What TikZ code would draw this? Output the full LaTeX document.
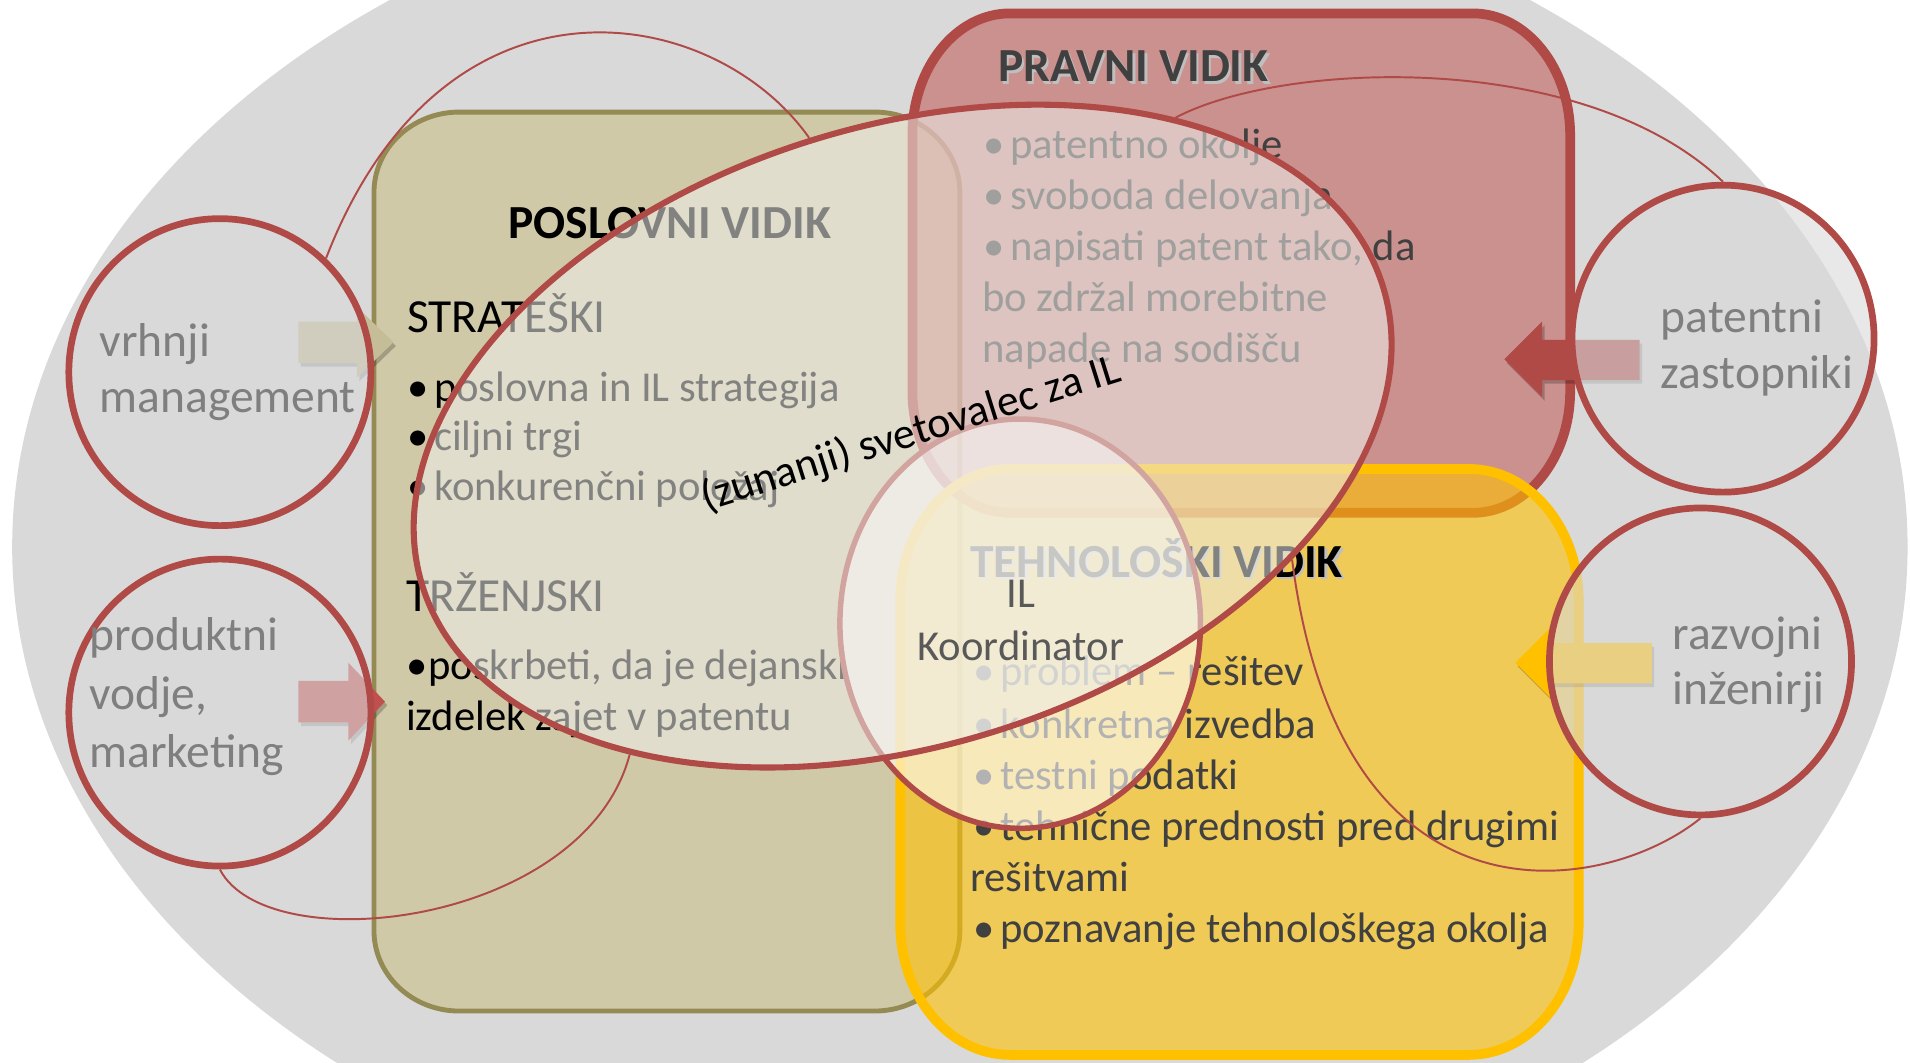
\documentclass[tikz,border=0pt]{standalone}
\usepackage{fontspec}
\setmainfont{Carlito}
\usetikzlibrary{shapes.geometric}
\definecolor{bgrey}{HTML}{D9D9D9}
\definecolor{khaki}{HTML}{D0C9A8}
\definecolor{olive}{HTML}{948A54}
\definecolor{rred}{HTML}{C0504D}
\definecolor{dred}{HTML}{B04A47}
\definecolor{yel}{HTML}{FFC000}
\definecolor{tanc}{HTML}{C4BD97}
\definecolor{txtg}{HTML}{7F7F7F}
\definecolor{dgrey}{HTML}{404040}
\definecolor{shadg}{HTML}{BFBFBF}
\definecolor{elf}{HTML}{EEEEEA}
\definecolor{ilg}{HTML}{595959}
\newcommand\roundbox[7]{\path[#1] (#2,#3+#7) .. controls (#2,#3+0.448*#7) and (#2+0.448*#6,#3) .. (#2+#6,#3) -- (#4-#6,#3) .. controls (#4-0.448*#6,#3) and (#4,#3+0.448*#7) .. (#4,#3+#7) -- (#4,#5-#7) .. controls (#4,#5-0.448*#7) and (#4-0.448*#6,#5) .. (#4-#6,#5) -- (#2+#6,#5) .. controls (#2+0.448*#6,#5) and (#2,#5-0.448*#7) .. (#2,#5-#7) -- cycle;}
\newcommand\bul{•\kern0.13em}
\begin{document}
\begin{tikzpicture}[x=0.5pt,y=-0.5pt,
  bodytxt/.style={anchor=base west, inner sep=0pt, font=\fontsize{17.5}{21}\selectfont},
  headtxt/.style={anchor=base west, inner sep=0pt, font=\fontsize{19.5}{23}\selectfont\bfseries},
  sectxt/.style={anchor=base west, inner sep=0pt, font=\fontsize{19.5}{23}\selectfont},
  circtxt/.style={anchor=base west, inner sep=0pt, text=txtg, font=\fontsize{19.5}{23}\selectfont},
  role/.style={ellipse, draw=dred, line width=2.75pt, fill=bgrey, fill opacity=0.6, minimum width=124pt, minimum height=126pt, inner sep=0pt},
  conn/.style={draw=dred, line width=0.8pt},
  ashadow/.style={fill=black, opacity=0.22, shift={(2,3)}}
]
\useasboundingbox (0,0) rectangle (1568,872);
\clip (0,0) rectangle (1568,872);
\fill[white] (0,0) rectangle (1568,872);
\fill[bgrey] (788,449) ellipse [x radius=778, y radius=562];

% boxes
\roundbox{fill=khaki, draw=olive, line width=2pt}{307}{92}{788}{830}{70}{66}
\roundbox{fill=rred, fill opacity=0.52, draw=dred, line width=4pt}{749}{11}{1289}{421}{80}{100}
\roundbox{fill=yel, fill opacity=0.6, draw=yel, line width=4pt}{739}{385}{1296}{866}{90}{108}

% poslovni texts
\node[headtxt] (posh) at (417,196) {POSLOVNI VIDIK};
\node[sectxt] (strat) at (334,273) {STRATEŠKI};
\node[bodytxt] (s1) at (334,329.5) {\bul poslovna in IL strategija};
\node[bodytxt] (s2) at (334,370) {\bul ciljni trgi};
\node[bodytxt] (s3) at (334,411) {\bul konkurenčni položaj};
\node[sectxt] (trz) at (333,502) {TRŽENJSKI};
\node[bodytxt] (t1) at (333,558) {•\kern0.02em poskrbeti, da je dejanski};
\node[bodytxt] (t2) at (333,600) {izdelek zajet v patentu};

% pravni texts
\node[headtxt, text=shadg] (prhs) at (821,69) {PRAVNI VIDIK};
\node[headtxt, text=dgrey] (prh) at (819,67) {PRAVNI VIDIK};
\node[bodytxt, text=dgrey] (p1) at (807,130) {\bul patentno okolje};
\node[bodytxt, text=dgrey] (p2) at (807,172) {\bul svoboda delovanja};
\node[bodytxt, text=dgrey] (p3) at (807,214) {\bul napisati patent tako, da};
\node[bodytxt, text=dgrey] (p4) at (806,256) {bo zdržal morebitne};
\node[bodytxt, text=dgrey] (p5) at (806,298) {napade na sodišču};

% tehnoloski texts
\node[headtxt, text=shadg] (tehs) at (798,476) {TEHNOLOŠKI VIDIK};
\node[headtxt] (teh) at (796,474) {TEHNOLOŠKI VIDIK};
\node[bodytxt, text=dgrey] (e1) at (799,563) {\bul problem – rešitev};
\node[bodytxt, text=dgrey] (e2) at (799,606) {\bul konkretna izvedba};
\node[bodytxt, text=dgrey] (e3) at (799,648) {\bul testni podatki};
\node[bodytxt, text=dgrey] (e4) at (799,690) {\bul tehnične prednosti pred drugimi};
\node[bodytxt, text=dgrey] (e5) at (796,732) {rešitvami};
\node[bodytxt, text=dgrey] (e6) at (799,774) {\bul poznavanje tehnološkega okolja};

% block arrows
\fill[ashadow] (245,264) -- (293,264) -- (293,252) -- (323,281) -- (293,310) -- (293,298) -- (245,298) -- cycle;
\fill[tanc] (245,264) -- (293,264) -- (293,252) -- (323,281) -- (293,310) -- (293,298) -- (245,298) -- cycle;
\fill[ashadow] (245,559) -- (286,559) -- (286,544) -- (316,576) -- (286,608) -- (286,593) -- (245,593) -- cycle;
\fill[rred] (245,559) -- (286,559) -- (286,544) -- (316,576) -- (286,608) -- (286,593) -- (245,593) -- cycle;
\fill[ashadow] (1346,279) -- (1266,279) -- (1266,264) -- (1235,295) -- (1266,326) -- (1266,312) -- (1346,312) -- cycle;
\fill[dred] (1346,279) -- (1266,279) -- (1266,264) -- (1235,295) -- (1266,326) -- (1266,312) -- (1346,312) -- cycle;
\fill[ashadow] (1356,528) -- (1273,528) -- (1273,515) -- (1244,544) -- (1273,573) -- (1273,561) -- (1356,561) -- cycle;
\fill[yel] (1356,528) -- (1273,528) -- (1273,515) -- (1244,544) -- (1273,573) -- (1273,561) -- (1356,561) -- cycle;

% role circles
\node[role] (vm) at (180.5,305.5) {};
\node[role] (pv) at (180.5,585) {};
\node[role] (pz) at (1414.5,278) {};
\node[role] (ri) at (1396,543) {};

\node[circtxt] (vm1) at (81.5,292.6) {vrhnji};
\node[circtxt] (vm2) at (81.5,339) {management};
\node[circtxt] (pv1) at (73,534) {produktni};
\node[circtxt] (pv2) at (73,582.7) {vodje,};
\node[circtxt] (pv3) at (73,629.7) {marketing};
\node[circtxt] (pz1) at (1363,273) {patentni};
\node[circtxt] (pz2) at (1363,319) {zastopniki};
\node[circtxt] (ri1) at (1372.6,533) {razvojni};
\node[circtxt] (ri2) at (1372.6,578.4) {inženirji};

% IL coordinator circle and advisor ellipse
\node[ellipse, draw=dred, line width=2.25pt, fill=white, fill opacity=0.6, minimum width=148pt, minimum height=168pt, inner sep=0pt] (ilc) at (837.5,512) {};
\node[ellipse, draw=dred, line width=2.5pt, fill=elf, fill opacity=0.55, minimum width=413pt, minimum height=254pt, inner sep=0pt, rotate=17.4] (adv) at (741,358) {};

% connectors
\draw[conn] (vm.47) .. controls (364,-37) and (586,2) .. (adv.north);
\draw[conn] (pz.north) .. controls (1300,40) and (1053,50) .. (adv.32);
\draw[conn] (pv.south) .. controls (220,790) and (480,760) .. (adv.212);
\draw[conn] (ri.south) .. controls (1318,735) and (1101,772) .. (adv.325.5);

% top labels
\node[anchor=base, inner sep=0pt, rotate=17.4, font=\fontsize{18}{22}\selectfont] (advl) at (751,366) {(zunanji) svetovalec za IL};
\node[anchor=base, inner sep=0pt, text=ilg, font=\fontsize{17.5}{21}\selectfont] (il1) at (838,499) {IL};
\node[anchor=base, inner sep=0pt, text=ilg, font=\fontsize{17.5}{21}\selectfont] (il2) at (838,542) {Koordinator};
\end{tikzpicture}
\end{document}
